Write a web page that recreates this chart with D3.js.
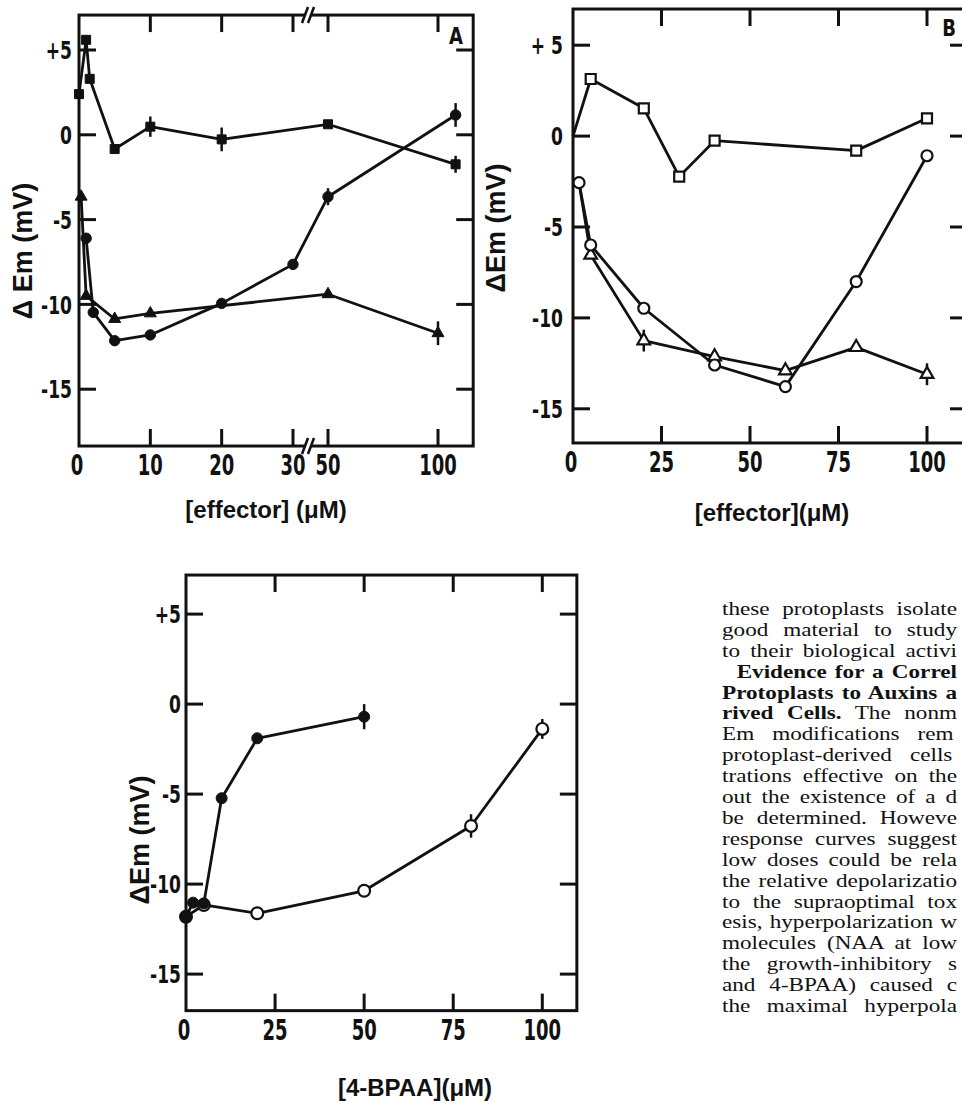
<!DOCTYPE html>
<html><head><meta charset="utf-8">
<script src="https://cdn.jsdelivr.net/npm/d3@7"></script>
<style>body{margin:0;background:#fff}svg{display:block}</style>
</head><body><svg id="c" width="962" height="1103"></svg>
<script>
// ---------- DATA ----------
// Panel A (broken x axis)
const aXTicks = [10, 20, 30, 50, 100];
const aXTickLabels = ["0", "10", "20", "30", "50", "100"];
const aXLabelValues = [0, 10, 20, 30, 50, 100];
const aSquareX = [0, 1, 1.5, 5, 10, 20, 50, 108];
const aSquareY = [2.4, 5.6, 3.3, -0.84, 0.48, -0.27, 0.62, -1.74];
const aSquareErr = [0, 0, 0, 0, 0.6, 0.7, 0, 0.5];
const aCircleX = [1, 2, 5, 10, 20, 30, 50, 108];
const aCircleY = [-6.1, -10.47, -12.14, -11.8, -9.94, -7.64, -3.65, 1.17];
const aCircleErr = [0.3, 0, 0, 0, 0, 0, 0.5, 0.7];
const aTriX = [0.3, 1, 5, 10, 50, 100];
const aTriY = [-3.65, -9.5, -10.86, -10.53, -9.4, -11.7];
const aTriErr = [0, 0, 0, 0, 0, 0.7];
const yTickValues = [5, 0, -5, -10, -15];
const aYTickLabels = ["+5", "0", "-5", "-10", "-15"];

// Panel B
const bXTicks = [25, 50, 75, 100];
const bXLabelValues = [0, 25, 50, 75, 100];
const bXTickLabels = ["0", "25", "50", "75", "100"];
const bYTickLabels = ["+ 5", "0", "-5", "-10", "-15"];
const bSquareX = [0, 5, 20, 30, 40, 80, 100];
const bSquareY = [0, 3.14, 1.53, -2.23, -0.25, -0.8, 0.98];
const bCircleX = [1.7, 5, 20, 40, 60, 80, 100];
const bCircleY = [-2.56, -5.99, -9.47, -12.59, -13.78, -8.0, -1.08];
const bTriX = [1.7, 5, 20, 40, 60, 80, 100];
const bTriY = [-2.56, -6.54, -11.25, -12.13, -12.9, -11.62, -13.1];
const bTriErr = [0, 0, 0.6, 0, 0, 0, 0.6];

// Panel C
const cXTicks = [25, 50, 75, 100];
const cXLabelValues = [0, 25, 50, 75, 100];
const cXTickLabels = ["0", "25", "50", "75", "100"];
const cYTickLabels = ["+5", "0", "-5", "-10", "-15"];
const cFilledX = [0, 2, 5, 10, 20, 50];
const cFilledY = [-11.81, -11.03, -11.07, -5.23, -1.9, -0.7];
const cFilledErr = [0, 0, 0, 0.3, 0, 0.7];
const cOpenX = [0, 5, 20, 50, 80, 100];
const cOpenY = [-11.81, -11.16, -11.62, -10.37, -6.77, -1.38];
const cOpenErr = [0, 0, 0, 0, 0.65, 0.55];

// Body text to the right of panel C (visible part, cut by the page edge)
const textLines = [
  [["these protoplasts isolate", false]],
  [["good material to study", false]],
  [["to their biological activi", false]],
  [["Evidence for a Correl", true]],
  [["Protoplasts to Auxins a", true]],
  [["rived Cells.", true], [" The nonm", false]],
  [["Em modifications rem", false]],
  [["protoplast-derived cells", false]],
  [["trations effective on the", false]],
  [["out the existence of a d", false]],
  [["be determined. Howeve", false]],
  [["response curves suggest", false]],
  [["low doses could be rela", false]],
  [["the relative depolarizatio", false]],
  [["to the supraoptimal tox", false]],
  [["esis, hyperpolarization w", false]],
  [["molecules (NAA at low", false]],
  [["the growth-inhibitory s", false]],
  [["and 4-BPAA) caused c", false]],
  [["the maximal hyperpola", false]]
];

// ---------- DRAWING ----------
const svg = d3.select('#c');
const INK = '#111';
const NUMFONT = '"Liberation Sans Narrow","DejaVu Sans Condensed","Roboto Condensed",sans-serif';
const TITLEFONT = '"Liberation Sans","DejaVu Sans",sans-serif';

function stretchText(g, x, y, txt, anchor, size, sy) {
  g.append('text')
    .attr('transform', `translate(${x},${y}) scale(1,${sy})`)
    .attr('text-anchor', anchor)
    .attr('dy', '0.36em')
    .style('font-family', NUMFONT)
    .style('font-size', size + 'px')
    .style('font-weight', 'bold')
    .attr('fill', INK)
    .text(txt);
}

function zip(xs, ys, es) { return xs.map((v, i) => ({x: v, y: ys[i], e: es ? es[i] : 0})); }

function drawPanel(p) {
  const g = svg.append('g');
  const x = p.x, y = p.y;
  const L = x(p.xDom[0]), R = x(p.xDom[1]), T = y(p.yDom[1]), B = y(p.yDom[0]);
  const tl = 17;
  yTickValues.forEach((v, i) => {
    g.append('line').attr('x1', L).attr('x2', L + tl).attr('y1', y(v)).attr('y2', y(v))
      .attr('stroke', INK).attr('stroke-width', 3);
    g.append('line').attr('x1', R - tl).attr('x2', R).attr('y1', y(v)).attr('y2', y(v))
      .attr('stroke', INK).attr('stroke-width', 3);
    stretchText(g, L - p.yLabelGap, y(v), p.yLabels[i], 'end', 19, 1.35);
  });
  p.xTicks.forEach(v => {
    g.append('line').attr('x1', x(v)).attr('x2', x(v)).attr('y1', B).attr('y2', B - tl)
      .attr('stroke', INK).attr('stroke-width', 3);
    g.append('line').attr('x1', x(v)).attr('x2', x(v)).attr('y1', T).attr('y2', T + tl)
      .attr('stroke', INK).attr('stroke-width', 3);
  });
  p.xLabelValues.forEach((v, i) => {
    stretchText(g, x(v) - (i === 0 ? 2 : 0), B + 19, p.xLabels[i], 'middle', 20, 1.4);
  });
  g.append('rect').attr('x', L).attr('y', T).attr('width', R - L).attr('height', B - T)
    .attr('fill', 'none').attr('stroke', INK).attr('stroke-width', 3);
  const line = d3.line().x(d => x(d.x)).y(d => y(d.y));
  p.series.forEach(s => {
    g.append('path').attr('d', line(s.data)).attr('fill', 'none')
      .attr('stroke', INK).attr('stroke-width', 2.8).attr('stroke-linejoin', 'round');
  });
  p.series.forEach(s => {
    s.data.forEach(d => {
      if (d.e > 0) {
        g.append('line').attr('x1', x(d.x)).attr('x2', x(d.x))
          .attr('y1', y(d.y - d.e)).attr('y2', y(d.y + d.e))
          .attr('stroke', INK).attr('stroke-width', 2.5);
      }
    });
  });
  p.series.forEach(s => {
    const sym = d3.symbol().type(s.type).size(s.size);
    s.data.forEach((d, i) => {
      if (i < (s.markerStart || 0)) return;
      g.append('path').attr('d', sym())
        .attr('transform', `translate(${x(d.x)},${y(d.y)})`)
        .attr('fill', s.filled ? INK : '#fff')
        .attr('stroke', INK).attr('stroke-width', s.filled ? 1 : 2.2);
    });
  });
  g.append('text').attr('transform', `translate(${p.yTitlePos[0]},${p.yTitlePos[1]}) rotate(-90)`)
    .attr('text-anchor', 'middle').attr('dy', '0.35em')
    .style('font-family', TITLEFONT).style('font-size', '27px').style('font-weight', 'bold')
    .attr('fill', INK).text(p.yTitle);
  g.append('text').attr('x', p.xTitlePos[0]).attr('y', p.xTitlePos[1])
    .attr('text-anchor', 'middle').attr('dy', '0.35em')
    .style('font-family', TITLEFONT).style('font-size', '24px').style('font-weight', 'bold')
    .attr('fill', INK).text(p.xTitle);
  return g;
}

// Panel A
const xA = d3.scaleLinear().domain([0, 30, 50, 100]).range([79, 293, 328, 438]);
const yA = d3.scaleLinear().domain([5, -15]).range([50.0, 389.2]);
const gA = drawPanel({
  x: xA, y: yA, xDom: [0, 116], yDom: [-18.35, 7.06],
  xTicks: aXTicks, xLabelValues: aXLabelValues, xLabels: aXTickLabels,
  yLabels: aYTickLabels, yLabelGap: 7,
  yTitle: 'Δ Em  (mV)', yTitlePos: [23, 251],
  xTitle: '[effector] (μM)', xTitlePos: [266, 510],
  series: [
    {data: zip(aSquareX, aSquareY, aSquareErr), type: d3.symbolSquare, size: 81, filled: true},
    {data: zip(aTriX, aTriY, aTriErr), type: d3.symbolTriangle, size: 62, filled: true},
    {data: zip(aCircleX, aCircleY, aCircleErr), type: d3.symbolCircle, size: 85, filled: true}
  ]
});
[[310, yA(7.06)], [310, yA(-18.35)]].forEach(([bx, by]) => {
  gA.append('polygon')
    .attr('points', `${bx-8},${by+8} ${bx-2},${by-8} ${bx+4},${by-8} ${bx-2},${by+8}`)
    .attr('fill', '#fff');
  [-5, 1].forEach(o => {
    gA.append('line').attr('x1', bx + o - 3).attr('y1', by + 8).attr('x2', bx + o + 3).attr('y2', by - 8)
      .attr('stroke', INK).attr('stroke-width', 2.5);
  });
});
stretchText(gA, 456, 36, 'A', 'middle', 20, 1.15);

// Panel B
const xB = d3.scaleLinear().domain([0, 100]).range([573, 927]);
const yB = d3.scaleLinear().domain([5, -15]).range([45.2, 408.8]);
const gB = drawPanel({
  x: xB, y: yB, xDom: [0, 111.3], yDom: [-16.88, 6.99],
  xTicks: bXTicks, xLabelValues: bXLabelValues, xLabels: bXTickLabels,
  yLabels: bYTickLabels, yLabelGap: 10,
  yTitle: 'ΔEm (mV)', yTitlePos: [496, 228],
  xTitle: '[effector](μM)', xTitlePos: [772, 513],
  series: [
    {data: zip(bSquareX, bSquareY), type: d3.symbolSquare, size: 100, filled: false, markerStart: 1},
    {data: zip(bTriX, bTriY, bTriErr), type: d3.symbolTriangle, size: 70, filled: false, markerStart: 1},
    {data: zip(bCircleX, bCircleY), type: d3.symbolCircle, size: 95, filled: false}
  ]
});
stretchText(gB, 949, 28, 'B', 'middle', 20, 1.15);

// Panel C
const xC = d3.scaleLinear().domain([0, 100]).range([186, 542.3]);
const yC = d3.scaleLinear().domain([5, -15]).range([614.1, 974.1]);
drawPanel({
  x: xC, y: yC, xDom: [0, 109.7], yDom: [-17.03, 7.17],
  xTicks: cXTicks, xLabelValues: cXLabelValues, xLabels: cXTickLabels,
  yLabels: cYTickLabels, yLabelGap: 5,
  yTitle: 'ΔEm (mV)', yTitlePos: [140, 840],
  xTitle: '[4-BPAA](μM)', xTitlePos: [415, 1088],
  series: [
    {data: zip(cOpenX, cOpenY, cOpenErr), type: d3.symbolCircle, size: 110, filled: false},
    {data: zip(cFilledX, cFilledY, cFilledErr), type: d3.symbolCircle, size: 95, filled: true}
  ]
});

// Body text (justified column at the page edge)
const TX0 = 722, TSX = 1.22, TRIGHT = 957;
const tg = svg.append('g').attr('transform', `translate(${TX0},0) scale(${TSX},1)`);
textLines.forEach((segs, i) => {
  const indent = i === 3 ? 12 : 0;
  const t = tg.append('text')
    .attr('x', indent).attr('y', 615 + i * 20.9)
    .style('font-family', '"Liberation Serif","Times New Roman",serif')
    .style('font-size', '19px').attr('fill', INK);
  segs.forEach(([s, b]) => t.append('tspan').style('font-weight', b ? 'bold' : 'normal').text(s));
  const full = segs.map(s => s[0]).join('');
  const nSp = (full.match(/ /g) || []).length;
  const target = (TRIGHT - TX0) / TSX - indent;
  const w = t.node().getComputedTextLength();
  if (nSp > 0 && w < target) {
    t.style('word-spacing', Math.min((target - w) / nSp, 10) + 'px');
  }
});
</script>
</body></html>
